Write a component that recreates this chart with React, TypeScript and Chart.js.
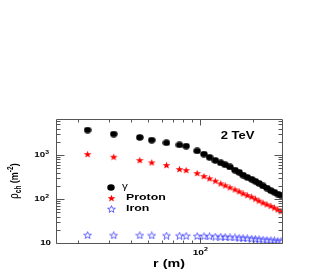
import React, { useEffect, useRef } from "react";
import { Chart, registerables } from "chart.js";
Chart.register(...registerables);

// ---- data ----
const radius = [22.6, 31.9, 45, 52.7, 64, 76, 83, 96, 105, 113, 122, 131, 139, 148, 158, 167, 176, 186, 197, 207, 217, 229, 241, 254, 266, 278, 290];
const gamma = [3700, 3000, 2520, 2190, 1900, 1700, 1600, 1240, 1050, 890, 755, 665, 600, 535, 455, 405, 350, 312, 282, 253, 228, 198, 178, 155, 143, 130, 122];
const proton = [1054, 915, 770, 683, 592, 481, 456, 390, 333, 295, 261, 227, 205, 185, 166, 150, 135, 123, 113, 102, 92, 83, 76, 70, 64, 58, 53];
const iron = [15.2, 15.0, 15.0, 14.9, 14.8, 14.7, 14.6, 14.4, 14.3, 14.2, 14.0, 13.9, 13.7, 13.5, 13.4, 13.2, 13.0, 12.8, 12.6, 12.4, 12.2, 12.0, 11.8, 11.6, 11.4, 11.2, 11.0];

const yTickValues = [10, 100, 1000];
const yTickBase = ["10", "10", "10"];
const yTickExp = ["", "2", "3"];
const xTickValues = [100];
const xTickBase = ["10"];
const xTickExp = ["2"];
const yMinorTicks = [20, 30, 40, 50, 60, 70, 80, 90, 200, 300, 400, 500, 600, 700, 800, 900, 2000, 3000, 4000, 5000, 6000];
const xMinorTicks = [20, 30, 40, 50, 60, 70, 80, 90, 200];

const seriesNames = ["γ", "Proton", "Iron"];
const energyLabel = "2 TeV";
const xTitle = "r (m)";

const SX = 1.3; // horizontal stretch of the original rendering
const FONT = "'Liberation Sans', Arial, sans-serif";

function makeEllipse(w: number, h: number, color: string) {
  const c = document.createElement("canvas");
  c.width = w; c.height = h;
  const ctx = c.getContext("2d")!;
  ctx.fillStyle = color;
  ctx.beginPath();
  ctx.ellipse(w / 2, h / 2, w / 2 - 0.3, h / 2 - 0.3, 0, 0, Math.PI * 2);
  ctx.fill();
  return c;
}

function makeStar(w: number, h: number, fill: string | null, stroke: string | null) {
  const c = document.createElement("canvas");
  c.width = w; c.height = h;
  const ctx = c.getContext("2d")!;
  const path = () => {
    ctx.setTransform(1, 0, 0, 1, 0, 0);
    ctx.translate(w / 2, h / 2 + 0.4);
    ctx.scale((w - 1) / 9, (h - 1) / 8.6);
    ctx.beginPath();
    const R = 4.6, r = 1.9;
    for (let i = 0; i < 10; i++) {
      const a = -Math.PI / 2 + (i * Math.PI) / 5;
      const rr = i % 2 === 0 ? R : r;
      ctx.lineTo(rr * Math.cos(a), rr * Math.sin(a));
    }
    ctx.closePath();
  };
  path();
  if (fill) { ctx.fillStyle = fill; ctx.fill(); }
  if (stroke) {
    ctx.strokeStyle = stroke;
    ctx.lineWidth = 0.9;
    ctx.stroke();
  }
  return c;
}

function drawSupLabel(ctx: CanvasRenderingContext2D, base: string, exp: string, cx: number, cy: number, size: number, align: "center" | "right") {
  ctx.save();
  ctx.font = `bold ${size}px ${FONT}`;
  const wb = ctx.measureText(base).width;
  ctx.font = `bold ${size * 0.7}px ${FONT}`;
  const we = exp ? ctx.measureText(exp).width : 0;
  const total = (wb + we) * SX;
  const left = align === "center" ? cx - total / 2 : cx - total;
  ctx.translate(left, cy);
  ctx.scale(SX, 1);
  ctx.textBaseline = "middle";
  ctx.textAlign = "left";
  ctx.fillStyle = "#000";
  ctx.font = `bold ${size}px ${FONT}`;
  ctx.fillText(base, 0, 0);
  if (exp) {
    ctx.font = `bold ${size * 0.7}px ${FONT}`;
    ctx.fillText(exp, wb, -size * 0.38);
  }
  ctx.restore();
}

function stretchedText(ctx: CanvasRenderingContext2D, text: string, x: number, y: number, font: string, align: CanvasTextAlign) {
  ctx.save();
  ctx.translate(x, y);
  ctx.scale(SX, 1);
  ctx.font = font;
  ctx.textAlign = align;
  ctx.textBaseline = "middle";
  ctx.fillStyle = "#000";
  ctx.fillText(text, 0, 0);
  ctx.restore();
}

export default function App() {
  const ref = useRef<HTMLCanvasElement | null>(null);

  useEffect(() => {
    if (!ref.current) return;
    const circleImg = makeEllipse(8, 7, "#000000");
    const protonImg = makeStar(9, 8, "#ff0000", null);
    const ironImg = makeStar(9, 8, null, "#3a3aff");

    const decor = {
      id: "rootDecor",
      afterDraw(chart: any) {
        const { ctx, chartArea: a, scales } = chart;
        const xs = scales.x, ys = scales.y;
        const L = Math.round(a.left) + 0.5, R = Math.round(a.right) + 0.5;
        const T = Math.round(a.top) + 0.5, B = Math.round(a.bottom) + 0.5;
        ctx.save();
        ctx.strokeStyle = "#555";
        ctx.lineWidth = 1;
        ctx.beginPath();
        ctx.rect(L, T, R - L, B - T);
        const yAll = [...yTickValues.map((v) => [v, 1]), ...yMinorTicks.map((v) => [v, 0])];
        for (const [v, major] of yAll) {
          const p = ys.getPixelForValue(v);
          if (p < a.top - 0.5 || p > a.bottom + 0.5) continue;
          const py = Math.round(p) + 0.5;
          const len = major ? 8 : 4;
          ctx.moveTo(L, py); ctx.lineTo(L + len, py);
          ctx.moveTo(R, py); ctx.lineTo(R - len, py);
        }
        const xAll = [...xTickValues.map((v) => [v, 1]), ...xMinorTicks.map((v) => [v, 0])];
        for (const [v, major] of xAll) {
          const p = xs.getPixelForValue(v);
          if (p < a.left || p > a.right) continue;
          const px = Math.round(p) + 0.5;
          const len = major ? 6 : 3;
          ctx.moveTo(px, B); ctx.lineTo(px, B - len);
          ctx.moveTo(px, T); ctx.lineTo(px, T + len);
        }
        ctx.stroke();
        ctx.restore();

        yTickValues.forEach((v, i) => {
          const py = ys.getPixelForValue(v);
          drawSupLabel(ctx, yTickBase[i], yTickExp[i], yTickExp[i] ? 49 : 51, py, 7.5, "right");
        });
        xTickValues.forEach((v, i) => {
          const px = xs.getPixelForValue(v);
          drawSupLabel(ctx, xTickBase[i], xTickExp[i], px, a.bottom + 9.5, 7.8, "center");
        });

        stretchedText(ctx, xTitle, (a.left + a.right) / 2, 264, `bold 11px ${FONT}`, "center");

        ctx.save();
        ctx.translate(15, (a.top + a.bottom) / 2);
        ctx.scale(SX, 1);
        ctx.rotate(-Math.PI / 2);
        ctx.textBaseline = "middle";
        ctx.textAlign = "left";
        ctx.fillStyle = "#000";
        const parts: [string, string, number][] = [
          ["ρ", `9.5px ${FONT}`, 0],
          ["ch", `bold 6.5px ${FONT}`, 2.5],
          [" (m", `bold 9px ${FONT}`, 0],
          ["-2", `bold 6.5px ${FONT}`, -3.5],
          [")", `bold 9px ${FONT}`, 0],
        ];
        let tw = 0;
        for (const [t, f] of parts) { ctx.font = f; tw += ctx.measureText(t).width; }
        let cx = -tw / 2;
        for (const [t, f, dy] of parts) {
          ctx.font = f;
          ctx.fillText(t, cx, dy);
          cx += ctx.measureText(t).width;
        }
        ctx.restore();

        stretchedText(ctx, energyLabel, 237.5, 136, `bold 10px ${FONT}`, "center");

        const imgs = [circleImg, protonImg, ironImg];
        const ly = [187, 197.5, 208.5];
        const tx = [122, 126, 126];
        imgs.forEach((im, i) => {
          ctx.drawImage(im, Math.round(111 - im.width / 2), Math.round(ly[i] - im.height / 2));
          stretchedText(ctx, seriesNames[i], tx[i], ly[i], i === 0 ? `9px ${FONT}` : `bold 9.5px ${FONT}`, "left");
        });
      },
    };

    const mk = (vals: number[]) => vals.map((v, i) => ({ x: radius[i], y: v }));

    const chart = new Chart(ref.current, {
      type: "scatter",
      data: {
        datasets: [
          { label: seriesNames[0], data: mk(gamma), pointStyle: circleImg as any, pointRadius: 4 },
          { label: seriesNames[1], data: mk(proton), pointStyle: protonImg as any, pointRadius: 4 },
          { label: seriesNames[2], data: mk(iron), pointStyle: ironImg as any, pointRadius: 4 },
        ],
      },
      options: {
        animation: false,
        responsive: false,
        events: [],
        layout: { padding: { top: 119, right: 45, left: 0, bottom: 0 } },
        plugins: { legend: { display: false }, tooltip: { enabled: false } },
        scales: {
          x: {
            type: "logarithmic",
            min: 14.9,
            max: 294,
            grid: { display: false, drawTicks: false },
            border: { display: false },
            ticks: { display: false },
            afterFit: (s: any) => { s.height = 30; },
          },
          y: {
            type: "logarithmic",
            min: 10,
            max: 6600,
            grid: { display: false, drawTicks: false },
            border: { display: false },
            ticks: { display: false },
            afterFit: (s: any) => { s.width = 56; },
          },
        },
      },
      plugins: [decor],
    });
    return () => chart.destroy();
  }, []);

  return (
    <div style={{ position: "fixed", left: 0, top: 0, width: 327, height: 273, background: "#fff" }}>
      <canvas ref={ref} width={327} height={273} style={{ width: 327, height: 273, display: "block" }} />
    </div>
  );
}
